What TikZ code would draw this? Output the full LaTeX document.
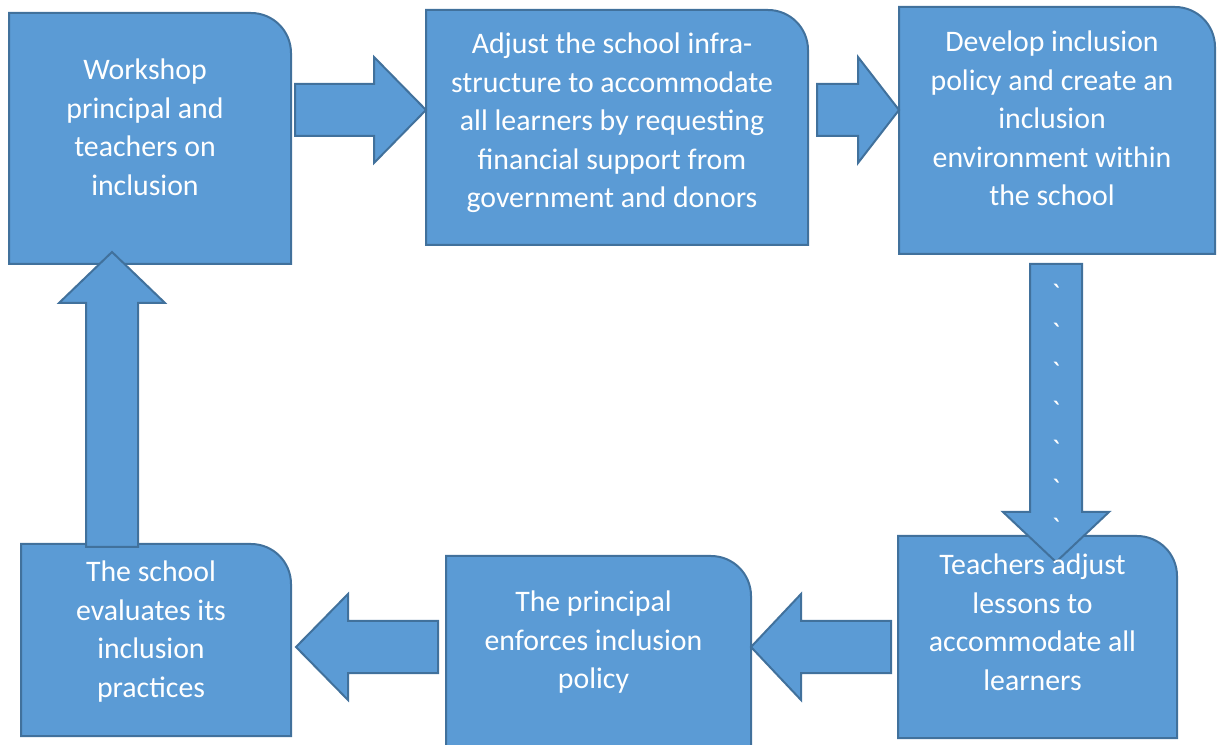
\documentclass[tikz,border=0pt]{standalone}
\usepackage{fontspec}
\setmainfont{Carlito}
\newfontfamily\tickfont{Carlito}[Ligatures=ResetAll]
\usetikzlibrary{calc,positioning}
\definecolor{boxfill}{HTML}{5B9BD5}
\definecolor{boxline}{HTML}{41719C}
\tikzset{x=1pt,y=1pt}
\tikzset{stage/.style={anchor=north west, inner sep=0pt, outer sep=0pt}}
\tikzset{outline/.style={fill=boxfill, draw=boxline, line width=2pt}}
\tikzset{words/.style={anchor=north, inner sep=0pt, align=center, text=white,
    font=\fontsize{29.8}{38.5}\selectfont}}
% box with one rounded corner (top right)
\newcommand\cornerbox[1]{%
  \draw[outline] (#1.south west) -- (#1.north west) -- ([xshift=-40pt]#1.north east)
    arc[start angle=90, end angle=0, radius=40] -- (#1.south east) -- cycle;}
% fat arrow from #1 (tail) to #2 (tip), head length #3
\newcommand\blockarrow[3]{%
  \draw[outline] let \p1=(#1), \p2=(#2), \n1={atan2(\y2-\y1,\x2-\x1)},
    \n2={veclen(\x2-\x1,\y2-\y1)} in [shift={(\p1)}, rotate=\n1]
    (0,-26) -- (\n2-#3,-26) -- (\n2-#3,-53) -- (\n2,0) -- (\n2-#3,53)
    -- (\n2-#3,26) -- (0,26) -- cycle;}

\begin{document}
\begin{tikzpicture}
\useasboundingbox (0,0) rectangle (1217,744);

\node[stage, minimum width=282pt, minimum height=251pt] (workshop) at (9,731) {};
\node[stage, minimum width=382pt, minimum height=235pt] (infra) at (426,734) {};
\node[stage, minimum width=316pt, minimum height=247pt] (policy) at (899,737) {};
\node[stage, minimum width=279pt, minimum height=202pt] (lessons) at (898,208) {};
\node[stage, minimum width=305pt, minimum height=200pt] (enforce) at (446,188) {};
\node[stage, minimum width=270pt, minimum height=192pt] (evaluate) at (21,200) {};

\foreach \b in {workshop,infra,policy,lessons,enforce,evaluate}
  \cornerbox{\b};

% arrow ends
\coordinate (a1) at ([shift={(4,-97)}]workshop.north east);
\coordinate (a2) at ([shift={(9,-100)}]infra.north east);
\coordinate (a3) at ([shift={(-1,-10)}]policy.south);
\coordinate (a3tip) at ([yshift=-26pt]lessons.north -| a3);
\coordinate (a4) at ([shift={(-7,-10)}]lessons.west);
\coordinate (a5) at ([shift={(-8,9)}]enforce.west);
\coordinate (a5tip) at ([xshift=5pt]evaluate.east |- a5);
\coordinate (a6) at ([shift={(-44,-3)}]evaluate.north);
\coordinate (a6tip) at ([yshift=12pt]workshop.south -| a6);

\blockarrow{a1}{infra.west |- a1}{52}
\blockarrow{a2}{policy.west |- a2}{41}
\blockarrow{a3}{a3tip}{50}
\blockarrow{a4}{enforce.east |- a4}{50}
\blockarrow{a5}{a5tip}{52}
\blockarrow{a6}{a6tip}{51}

\node[words] (ws-t) at ([shift={(-5,-46)}]workshop.north)
  {Workshop\\principal and\\teachers on\\inclusion};
\node[words] (infra-t) at ([shift={(-5,-23)}]infra.north)
  {Adjust the school infra-\\structure to accommodate\\all learners by requesting\\financial support from\\government and donors};
\node[words] (policy-t) at ([shift={(-5,-24)}]policy.north)
  {Develop inclusion\\policy and create an\\inclusion\\environment within\\the school};
\node[words] (lessons-t) at ([shift={(-5,-18)}]lessons.north)
  {Teachers adjust\\lessons to\\accommodate all\\learners};
\node[words] (enforce-t) at ([shift={(-5,-35)}]enforce.north)
  {The principal\\enforces inclusion\\policy};
\node[words] (evaluate-t) at ([shift={(-5,-17)}]evaluate.north)
  {The school\\evaluates its\\inclusion\\practices};
\node[words, font=\tickfont\fontsize{29.8}{39}\selectfont] (ticks) at ([yshift=-20pt]a3)
  {`\\`\\`\\`\\`\\`\\`};
\end{tikzpicture}
\end{document}
